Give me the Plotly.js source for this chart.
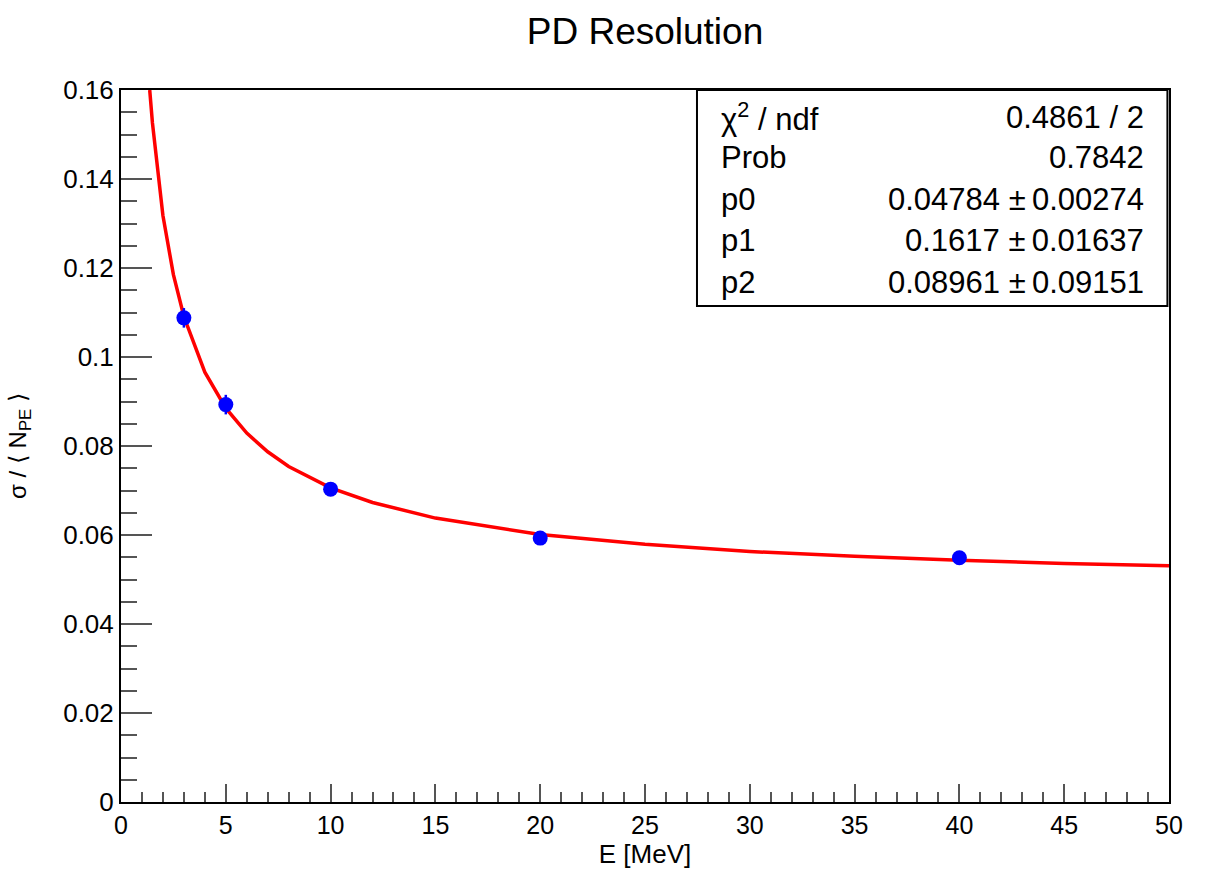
<!DOCTYPE html>
<html>
<head>
<meta charset="utf-8">
<script src="https://cdn.plot.ly/plotly-3.0.1.min.js"></script>
<style>html,body{margin:0;padding:0;background:#fff;}#chart{width:1228px;height:880px;}</style>
</head>
<body>
<div id="chart"></div>
<script>
// Measured data points
const energy = [3, 5, 10, 20, 40];
const resolution = [0.1088, 0.0893, 0.0703, 0.0593, 0.0549];
const resolutionErr = [0.0022, 0.0022, 0.0012, 0.0010, 0.0012];

// Fit curve
const fitE = [1.37, 1.5, 2, 2.5, 3, 4, 5, 6, 7, 8, 10, 12, 15, 20, 25, 30, 35, 40, 45, 50];
const fitSigma = [0.1600, 0.1526, 0.1318, 0.1185, 0.1091, 0.0966, 0.0885, 0.0829, 0.0787, 0.0754,
                  0.0706, 0.0673, 0.0638, 0.0601, 0.0579, 0.0563, 0.0552, 0.0543, 0.0536, 0.0531];

// Stats box
const statLabels = ["χ<sup>2</sup> / ndf", "Prob", "p0", "p1", "p2"];
const statValues = ["0.4861 / 2", "0.7842", "0.04784 ±\u20090.00274", "0.1617 ±\u20090.01637", "0.08961 ±\u20090.09151"];

const FONT = "Liberation Sans, Arial, Helvetica, sans-serif";

const traces = [
  {
    x: fitE, y: fitSigma, type: "scatter", mode: "lines",
    line: {color: "#ff0000", width: 3.5}, hoverinfo: "skip", showlegend: false
  },
  {
    x: energy, y: resolution, type: "scatter", mode: "markers",
    marker: {color: "#0000ff", size: 15},
    error_y: {type: "data", array: resolutionErr, visible: true, color: "#0000ff", thickness: 2.5, width: 0},
    showlegend: false
  }
];

const rowY = [0.962, 0.9045, 0.8469, 0.7893, 0.7303];
const annotations = [];
statLabels.forEach((t, i) => {
  annotations.push({xref: "paper", yref: "paper", x: 0.5706, y: rowY[i], xanchor: "left", yanchor: "middle",
    text: t, showarrow: false, font: {family: FONT, size: 31, color: "#000"}});
  annotations.push({xref: "paper", yref: "paper", x: 0.978, y: rowY[i], xanchor: "right", yanchor: "middle",
    text: statValues[i], showarrow: false, font: {family: FONT, size: 31, color: "#000"}});
});

const layout = {
  width: 1228, height: 880,
  margin: {l: 121, r: 59, t: 90, b: 78, pad: 0},
  paper_bgcolor: "#fff", plot_bgcolor: "#fff",
  font: {family: FONT, color: "#000"},
  title: {text: "PD Resolution", font: {family: FONT, size: 37, color: "#000"},
          x: 0.5, xref: "paper", xanchor: "center", y: 0.965, yref: "container", yanchor: "middle"},
  xaxis: {
    range: [0, 50], dtick: 5, tick0: 0, ticks: "inside", ticklen: 18, tickwidth: 2, tickcolor: "#555",
    minor: {dtick: 1, ticks: "inside", ticklen: 10, tickwidth: 2, tickcolor: "#555"},
    showgrid: false, zeroline: false, showline: true, linecolor: "#000", linewidth: 2, mirror: true,
    tickfont: {family: FONT, size: 25, color: "#000"},
    title: {text: "E [MeV]", font: {family: FONT, size: 26, color: "#000"}, standoff: 3}
  },
  yaxis: {
    range: [0, 0.16], dtick: 0.02, tick0: 0, ticks: "inside", ticklen: 31, tickwidth: 2, tickcolor: "#555",
    minor: {dtick: 0.005, ticks: "inside", ticklen: 16, tickwidth: 2, tickcolor: "#555"},
    showgrid: false, zeroline: false, showline: true, linecolor: "#000", linewidth: 2, mirror: true,
    tickfont: {family: FONT, size: 26, color: "#000"},
    title: {text: "σ / ⟨ N<sub>PE</sub> ⟩", font: {family: FONT, size: 24, color: "#000"}, standoff: 30}
  },
  shapes: [
    {type: "rect", xref: "paper", yref: "paper", x0: 0.5496, x1: 0.9985, y0: 0.6966, y1: 1,
     line: {color: "#000", width: 2}, fillcolor: "#fff", layer: "above"}
  ],
  annotations: annotations
};

Plotly.newPlot("chart", traces, layout, {displayModeBar: false, staticPlot: true});
</script>
</body>
</html>
